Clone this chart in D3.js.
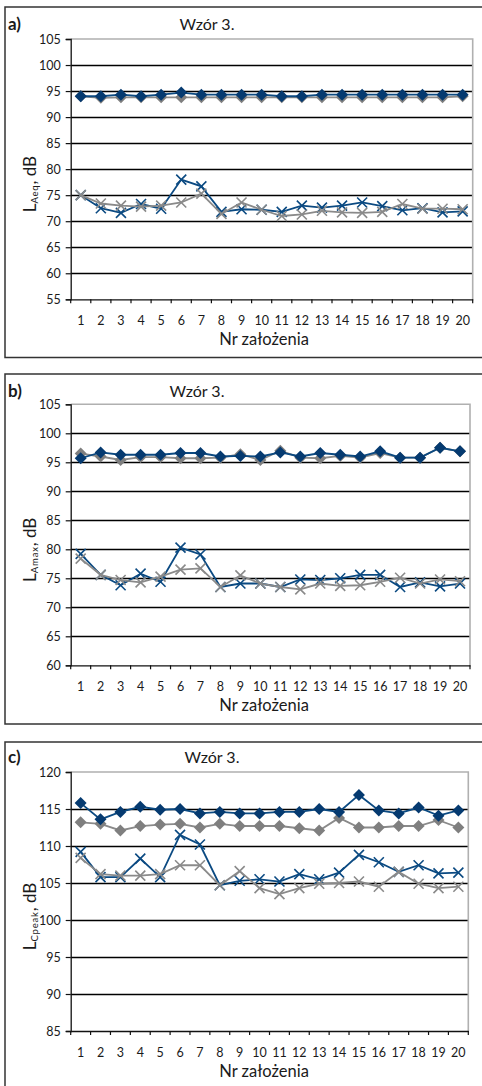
<!DOCTYPE html>
<html>
<head>
<meta charset="utf-8">
<script src="https://cdn.jsdelivr.net/npm/d3@7"></script>
<style>
  body { margin: 0; background: #fff; }
  svg { display: block; }
  text { font-family: Lato, "Open Sans", sans-serif; fill: #1a1a1a; }
</style>
</head>
<body>
<div id="chart"></div>
<script>

var categories = ["1","2","3","4","5","6","7","8","9","10","11","12","13","14","15","16","17","18","19","20"];

// a) L_Aeq
var aTicks = [55, 60, 65, 70, 75, 80, 85, 90, 95, 100, 105];
var aDiamondBlue = [94.0, 94.0, 94.3, 94.0, 94.3, 94.7, 94.3, 94.3, 94.3, 94.3, 94.0, 94.0, 94.3, 94.3, 94.3, 94.3, 94.3, 94.3, 94.3, 94.3];
var aDiamondGrey = [94.0, 93.7, 93.8, 93.8, 93.8, 93.8, 93.8, 93.8, 93.8, 93.8, 93.8, 93.8, 93.8, 93.8, 93.8, 93.8, 93.8, 93.8, 93.8, 94.0];
var aCrossBlue = [75.0, 72.5, 71.6, 73.3, 72.4, 78.0, 76.7, 71.8, 72.3, 72.2, 71.8, 73.0, 72.6, 73.0, 73.6, 72.9, 72.1, 72.5, 71.7, 71.9];
var aCrossGrey = [75.0, 73.4, 73.0, 72.8, 73.0, 73.6, 75.3, 71.4, 73.6, 72.2, 71.0, 71.3, 72.0, 71.7, 71.6, 71.8, 73.3, 72.4, 72.4, 72.3];

// b) L_Amax
var bTicks = [60, 65, 70, 75, 80, 85, 90, 95, 100, 105];
var bDiamondBlue = [95.7, 96.7, 96.3, 96.3, 96.3, 96.6, 96.6, 96.0, 96.1, 96.0, 96.7, 96.0, 96.6, 96.3, 96.0, 96.9, 95.8, 95.8, 97.5, 96.9];
var bDiamondGrey = [96.5, 96.0, 95.4, 95.9, 95.9, 95.7, 95.7, 95.8, 96.4, 95.4, 97.0, 95.8, 95.7, 96.1, 95.8, 96.6, 95.8, 95.8, 97.5, 96.9];
var bCrossBlue = [79.2, 75.6, 73.8, 75.8, 74.4, 80.3, 79.1, 73.5, 74.1, 74.1, 73.5, 74.8, 74.7, 75.0, 75.6, 75.6, 73.5, 74.3, 73.6, 74.1];
var bCrossGrey = [78.4, 75.6, 74.7, 74.3, 75.3, 76.5, 76.7, 73.5, 75.5, 74.1, 73.5, 73.1, 74.1, 73.7, 73.8, 74.4, 75.1, 74.1, 74.8, 74.5];

// c) L_Cpeak
var cTicks = [85, 90, 95, 100, 105, 110, 115, 120];
var cDiamondBlue = [115.8, 113.6, 114.6, 115.3, 114.9, 115.0, 114.4, 114.6, 114.4, 114.4, 114.6, 114.6, 115.0, 114.6, 116.9, 114.8, 114.4, 115.2, 114.1, 114.8];
var cDiamondGrey = [113.2, 113.0, 112.1, 112.7, 112.9, 113.0, 112.5, 113.0, 112.7, 112.7, 112.7, 112.4, 112.1, 113.8, 112.5, 112.5, 112.7, 112.7, 113.5, 112.5];
var cCrossBlue = [109.2, 105.8, 105.8, 108.3, 105.8, 111.5, 110.2, 104.7, 105.3, 105.5, 105.2, 106.2, 105.5, 106.4, 108.8, 107.8, 106.5, 107.4, 106.3, 106.4];
var cCrossGrey = [108.4, 106.2, 106.0, 106.0, 106.2, 107.4, 107.4, 104.7, 106.6, 104.3, 103.5, 104.3, 104.9, 105.0, 105.2, 104.5, 106.5, 104.9, 104.3, 104.5];

var BLUE = "#0b4a82";
var BLUE_MARK = "#053a70";
var GREY = "#8a8a8a";
var GREY_MARK = "#7f7f7f";

var svg = d3.select("#chart").append("svg")
  .attr("width", 482)
  .attr("height", 1086);

function diamondPath(s){
  return "M0," + (-s) + "L" + s + ",0L0," + s + "L" + (-s) + ",0Z";
}

function drawPanel(opts){
  var g = svg.append("g");

  // outer frame, runs off the right edge like the scan
  g.append("rect")
    .attr("x", 5).attr("y", opts.boxTop)
    .attr("width", 500).attr("height", opts.boxBottom - opts.boxTop)
    .attr("fill", "none")
    .attr("stroke", "#333")
    .attr("stroke-width", 1.5);

  g.append("text")
    .attr("x", 8).attr("y", opts.titleY)
    .attr("font-size", 17).attr("font-weight", "bold")
    .text(opts.letter);

  g.append("text")
    .attr("x", opts.titleX).attr("y", opts.titleY)
    .attr("text-anchor", "middle")
    .attr("font-size", 16)
    .text("Wzór 3.");

  var x = d3.scaleBand()
    .domain(opts.categories)
    .range([opts.left, opts.right]);

  var y = d3.scaleLinear()
    .domain(opts.domain)
    .range([opts.bottom, opts.top]);

  // grid lines
  g.selectAll(".grid")
    .data(opts.ticks.slice(1, -1))
    .enter().append("line")
    .attr("x1", opts.left).attr("x2", opts.right)
    .attr("y1", function(d){ return Math.round(y(d)) + 0.5; })
    .attr("y2", function(d){ return Math.round(y(d)) + 0.5; })
    .attr("stroke", "#000")
    .attr("stroke-width", 1.3);

  // top and right border of plot area
  g.append("path")
    .attr("d", "M" + opts.left + "," + opts.top + "H" + opts.right + "V" + opts.bottom)
    .attr("fill", "none")
    .attr("stroke", "#b0b0b0")
    .attr("stroke-width", 1.6);

  // y axis
  var yAxis = d3.axisLeft(y)
    .tickValues(opts.ticks)
    .tickSize(5)
    .tickPadding(5)
    .tickFormat(d3.format("d"));

  var ya = g.append("g")
    .attr("transform", "translate(" + opts.left + ",0)")
    .call(yAxis);
  ya.select(".domain").attr("stroke", "#111").attr("stroke-width", 1.3);
  ya.selectAll(".tick line").attr("stroke", "#111").attr("stroke-width", 1.2);
  ya.selectAll(".tick text")
    .attr("font-family", "Lato, sans-serif")
    .attr("font-size", 12.5)
    .attr("fill", "#222");

  // x axis: ticks between categories
  var xAxis = d3.axisBottom(x)
    .tickSize(0)
    .tickPadding(17);

  var xa = g.append("g")
    .attr("transform", "translate(0," + opts.bottom + ")")
    .call(xAxis);
  xa.select(".domain").attr("stroke", "#111").attr("stroke-width", 1.3);
  xa.selectAll(".tick text")
    .attr("font-family", "Lato, sans-serif")
    .attr("font-size", 12.5)
    .attr("fill", "#222");

  var bounds = opts.categories.map(function(c){ return x(c); }).concat([opts.right]);
  g.selectAll(".xtick")
    .data(bounds)
    .enter().append("line")
    .attr("x1", function(d){ return d; }).attr("x2", function(d){ return d; })
    .attr("y1", opts.bottom).attr("y2", opts.bottom + 4)
    .attr("stroke", "#111")
    .attr("stroke-width", 1.2);

  g.append("text")
    .attr("x", 264).attr("y", opts.bottom + 46)
    .attr("text-anchor", "middle")
    .attr("font-size", 16.5)
    .text("Nr założenia");

  // y label: L_sub, dB
  var ylab = g.append("text")
    .attr("transform", "translate(36," + ((opts.top + opts.bottom) / 2 + 15) + ") rotate(-90)")
    .attr("text-anchor", "middle")
    .attr("font-size", 17);
  ylab.append("tspan").text("L");
  ylab.append("tspan").attr("font-size", 9.5).attr("dy", 2).attr("letter-spacing", 0.8).text(opts.sub);
  ylab.append("tspan").attr("dy", -2).text(", dB");

  var cx = function(d, i){ return x(opts.categories[i]) + x.bandwidth() / 2; };

  var line = d3.line()
    .x(cx)
    .y(function(d){ return y(d); });

  var order = [
    { data: opts.diamondGrey, color: GREY, mark: GREY_MARK, kind: "diamond" },
    { data: opts.diamondBlue, color: BLUE, mark: BLUE_MARK, kind: "diamond" },
    { data: opts.crossBlue, color: BLUE, mark: BLUE, kind: "cross" },
    { data: opts.crossGrey, color: GREY, mark: GREY, kind: "cross" }
  ];

  order.forEach(function(s){
    g.append("path")
      .attr("d", line(s.data))
      .attr("fill", "none")
      .attr("stroke", s.color)
      .attr("stroke-width", 1.8);

    if(s.kind == "diamond"){
      g.selectAll(null)
        .data(s.data)
        .enter().append("path")
        .attr("transform", function(d, i){ return "translate(" + cx(d, i) + "," + y(d) + ")"; })
        .attr("d", diamondPath(6))
        .attr("fill", s.mark);
    } else {
      g.selectAll(null)
        .data(s.data)
        .enter().append("path")
        .attr("transform", function(d, i){ return "translate(" + cx(d, i) + "," + y(d) + ")"; })
        .attr("d", "M-5,-5L5,5M-5,5L5,-5")
        .attr("fill", "none")
        .attr("stroke", s.mark)
        .attr("stroke-width", 1.6);
    }
  });
}

drawPanel({
  letter: "a)", sub: "Aeq", boxTop: 7, boxBottom: 357.5, titleX: 207, titleY: 30,
  left: 70.7, right: 472.7, top: 39, bottom: 299.3, domain: [55, 105], ticks: aTicks,
  categories: categories,
  diamondBlue: aDiamondBlue, diamondGrey: aDiamondGrey, crossBlue: aCrossBlue, crossGrey: aCrossGrey
});

drawPanel({
  letter: "b)", sub: "Amax", boxTop: 374, boxBottom: 724, titleX: 197, titleY: 397,
  left: 70.7, right: 470, top: 404.3, bottom: 665.3, domain: [60, 105], ticks: bTicks,
  categories: categories,
  diamondBlue: bDiamondBlue, diamondGrey: bDiamondGrey, crossBlue: bCrossBlue, crossGrey: bCrossGrey
});

drawPanel({
  letter: "c)", sub: "Cpeak", boxTop: 742, boxBottom: 1092, titleX: 212, titleY: 763,
  left: 70.7, right: 468.3, top: 772, bottom: 1031, domain: [85, 120], ticks: cTicks,
  categories: categories,
  diamondBlue: cDiamondBlue, diamondGrey: cDiamondGrey, crossBlue: cCrossBlue, crossGrey: cCrossGrey
});

</script>
</body>
</html>
